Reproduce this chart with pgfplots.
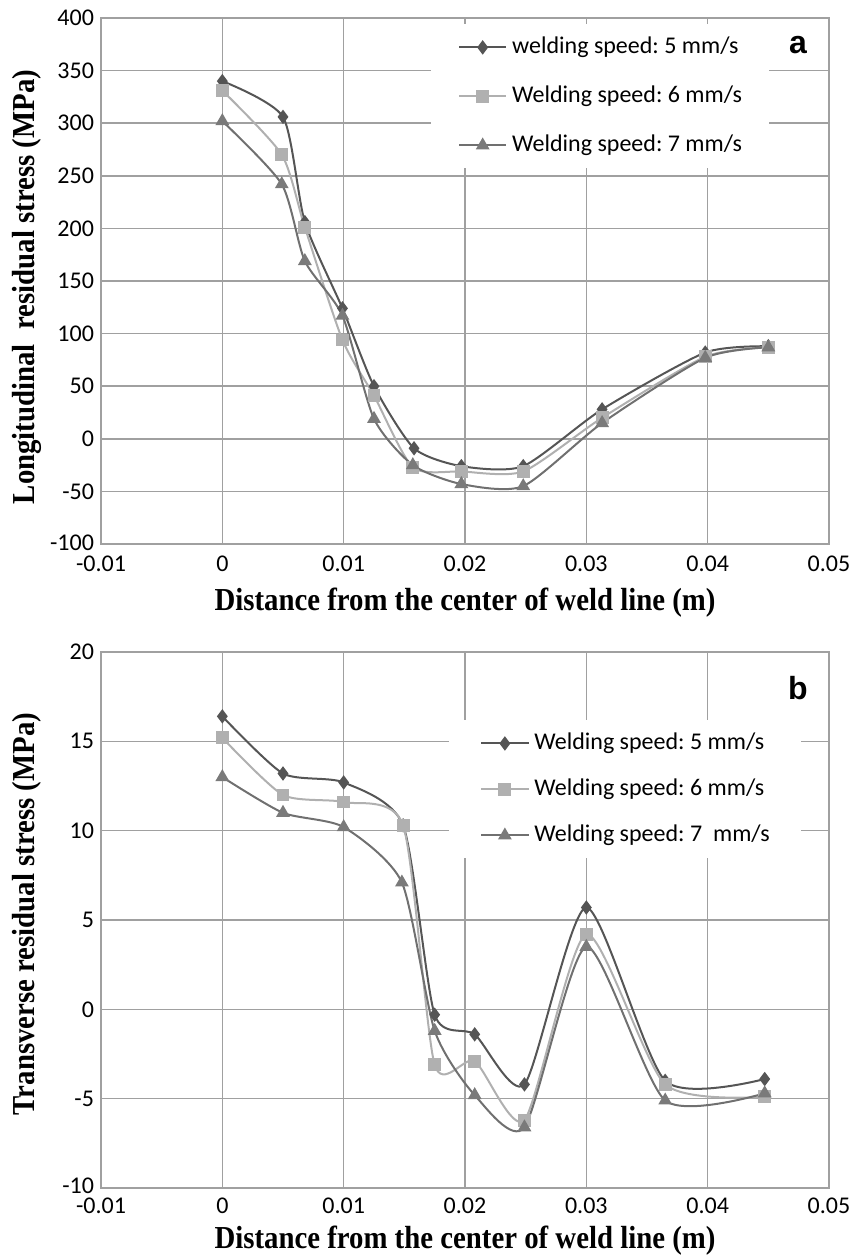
\documentclass[border=0pt]{standalone}
\usepackage{fontspec}
\setmainfont{Carlito}
\newfontfamily\titlefont{Liberation Serif}
\newfontfamily\labfont{Liberation Sans}
\usepackage{graphicx}
\usepackage{pgfplots}
\pgfplotsset{compat=1.18}
\frenchspacing
\definecolor{cD}{HTML}{555555}
\definecolor{cS}{HTML}{B0B0B0}
\definecolor{cT}{HTML}{707070}
\definecolor{cTm}{HTML}{7A7A7A}
\definecolor{gridc}{HTML}{A0A0A0}
\tikzset{ttl/.style={font=\titlefont\bfseries\fontsize{16}{18}\selectfont, inner sep=0pt}}
\pgfplotsset{
  mystyle/.style={
    scale only axis, width=364pt, anchor=south west,
    xmin=-0.01, xmax=0.05,
    scaled x ticks=false, scaled y ticks=false,
    xtick={-0.01,0,0.01,0.02,0.03,0.04,0.05},
    xticklabels={-0.01,0,0.01,0.02,0.03,0.04,0.05},
    grid=major,
    major grid style={gridc, line width=0.8pt},
    axis line style={gridc, line width=0.8pt},
    tick style={draw=none},
    ticklabel style={font=\fontsize{12}{14}\selectfont},
    xticklabel style={yshift=-2.5pt},
    legend cell align=left,
    legend image code/.code={\draw[mark repeat=2,mark phase=2] plot coordinates {(0pt,0pt) (11.75pt,0pt) (23.5pt,0pt)};},
  },
  sD/.style={color=cD, line width=1pt, smooth, tension=0.4, mark=diamond*, mark size=2.8pt, mark options={fill=cD, solid}},
  sS/.style={color=cS, line width=1pt, smooth, tension=0.4, mark=square*, mark size=2.7pt, mark options={fill=cS, solid}},
  sT/.style={color=cT, line width=1pt, smooth, tension=0.4, mark=triangle*, mark size=3pt, mark options={fill=cTm, draw=cTm, solid}},
}
\begin{document}
\begin{tikzpicture}
\useasboundingbox (0pt,0pt) rectangle (431pt,-628.5pt);
% ---------- top panel (a) ----------
\begin{axis}[mystyle,
  at={(50.5pt,-272pt)}, height=263pt,
  ymin=-100, ymax=400,
  ytick={-100,-50,0,50,100,150,200,250,300,350,400},
  yticklabels={\raisebox{1pt}{-100},-50,0,50,100,150,200,250,300,350,400},
  legend style={at={(0.453,0.9886)}, anchor=north west, fill=white, draw=none,
    font=\fontsize{12}{14}\selectfont, row sep=13.5pt, column sep=2.5pt,
    inner xsep=13.5pt, inner ysep=6pt,
    nodes={inner sep=0pt, text height=8.5pt, text depth=2.5pt}},
]
\addplot[sD] coordinates {(0,340) (0.005,306) (0.0068,206) (0.0099,124) (0.0125,50) (0.0158,-9) (0.0197,-26) (0.0248,-26) (0.0313,28) (0.0398,82) (0.045,88)};
\addplot[sS] coordinates {(0,331) (0.0049,270) (0.0068,201) (0.0099,94) (0.0125,41) (0.0157,-27) (0.0197,-31) (0.0248,-31) (0.0313,20) (0.0398,78) (0.045,87)};
\addplot[sT] coordinates {(0,302) (0.0049,242) (0.0068,169) (0.0099,117) (0.0125,19) (0.0157,-25) (0.0197,-43) (0.0248,-45) (0.0313,15) (0.0398,77) (0.045,87)};
\legend{welding speed: 5 mm/s, Welding speed: 6 mm/s, Welding speed: 7 mm/s}
\end{axis}
% ---------- bottom panel (b) ----------
\begin{axis}[mystyle,
  at={(50.5pt,-594pt)}, height=268pt,
  ymin=-10, ymax=20,
  ytick={-10,-5,0,5,10,15,20},
  yticklabels={\raisebox{2.5pt}{-10},-5,0,5,10,15,20},
  xticklabel style={yshift=1pt},
  legend style={at={(0.478,0.873)}, anchor=north west, fill=white, draw=none,
    font=\fontsize{12}{14}\selectfont, row sep=12pt, column sep=2.5pt,
    inner xsep=15.5pt, inner ysep=6pt,
    nodes={inner sep=0pt, text height=8.5pt, text depth=2.5pt}},
]
\addplot[sD] coordinates {(0,16.4) (0.005,13.2) (0.01,12.7) (0.0149,10.3) (0.0175,-0.3) (0.0208,-1.4) (0.0249,-4.2) (0.03,5.7) (0.0365,-4.0) (0.0447,-3.9)};
\addplot[sS] coordinates {(0,15.2) (0.005,12.0) (0.01,11.6) (0.0149,10.3) (0.0175,-3.1) (0.0208,-2.9) (0.0249,-6.2) (0.03,4.2) (0.0365,-4.2) (0.0447,-4.9)};
\addplot[sT] coordinates {(0,13.0) (0.005,11.0) (0.01,10.2) (0.0148,7.1) (0.0175,-1.2) (0.0208,-4.8) (0.0249,-6.6) (0.03,3.5) (0.0365,-5.1) (0.0447,-4.7)};
\legend{Welding speed: 5 mm/s, Welding speed: 6 mm/s, Welding speed: 7~ mm/s}
\end{axis}
% ---------- titles ----------
\node[ttl, rotate=90, anchor=base] at (17pt,-143.5pt) {\scalebox{0.9}[1]{Longitudinal~ residual stress (MPa)}};
\node[ttl, rotate=90, anchor=base] at (17pt,-457pt) {\scalebox{0.9}[1]{Transverse residual stress (MPa)}};
\node[ttl, anchor=base] at (232.5pt,-305pt) {\scalebox{0.9}[1]{Distance from the center of weld line (m)}};
\node[ttl, anchor=base] at (232.5pt,-624pt) {\scalebox{0.9}[1]{Distance from the center of weld line (m)}};
\node[font=\labfont\bfseries\fontsize{16}{18}\selectfont] at (399pt,-22.5pt) {a};
\node[font=\labfont\bfseries\fontsize{16}{18}\selectfont] at (399pt,-344pt) {b};
\end{tikzpicture}
\end{document}
